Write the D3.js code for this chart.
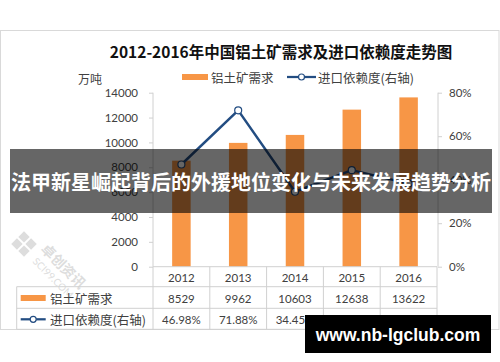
<!DOCTYPE html>
<html><head><meta charset="utf-8">
<script src="https://cdn.jsdelivr.net/npm/d3@7"></script>
<style>
html,body{margin:0;padding:0;background:#fff;}
svg{display:block;}
</style></head>
<body>
<script>
const years = ["2012","2013","2014","2015","2016"];
const demand = [8529, 9962, 10603, 12638, 13622];
const dependency = [46.98, 71.88, 34.45, 44.39, 38.21];
const leftTicks = [0,2000,4000,6000,8000,10000,12000,14000];
const rightTicks = [0,20,40,60,80];
const title = "2012-2016年中国铝土矿需求及进口依赖度走势图";
const seriesNames = ["铝土矿需求","进口依赖度(右轴)"];
const unitLabel = "万吨";
const bannerText = "法甲新星崛起背后的外援地位变化与未来发展趋势分析";
const siteText = "www.nb-lgclub.com";

const W=500,H=362;
const BAR="#F79646", LINE="#234d82", GRID="#d0d0d0", TXT="#404040";
const FONT="Lato, 'Noto Sans CJK SC', sans-serif";
const CJK="'Noto Sans CJK SC', sans-serif";

const svg=d3.select("body").append("svg").attr("width",W).attr("height",H);

// frame
svg.append("rect").attr("x",0.5).attr("y",30.5).attr("width",498.5).attr("height",299)
  .attr("fill","#fff").attr("stroke","#d9d9d9");

// faint logo watermark
const wm=svg.append("g").attr("opacity",0.28).attr("fill","#888");
const lg=wm.append("g").attr("transform","translate(24,244) rotate(45)");
[[-9,-9],[1,-9],[-9,1],[1,1]].forEach(p=>lg.append("rect").attr("x",p[0]).attr("y",p[1]).attr("width",8).attr("height",8));
wm.append("text").attr("transform","translate(40,250) rotate(45)").attr("font-family",CJK)
  .attr("font-size",14).attr("font-weight",700).text("卓创资讯");
wm.append("text").attr("transform","translate(32,262) rotate(45)").attr("font-family",FONT)
  .attr("font-size",10).text("SCI99.COM");

// title
svg.append("text").attr("x",281).attr("y",51).attr("text-anchor","middle")
  .attr("dominant-baseline","central").attr("font-family","'Noto Sans CJK SC', serif")
  .attr("font-weight",700).attr("font-size",15.5).attr("fill","#111").text(title);

// legend
svg.append("rect").attr("x",182).attr("y",74).attr("width",26).attr("height",6).attr("fill",BAR);
svg.append("text").attr("x",211).attr("y",77).attr("dominant-baseline","central")
  .attr("font-family",CJK).attr("font-size",12.5).attr("fill",TXT).text(seriesNames[0]);
svg.append("line").attr("x1",287).attr("x2",316).attr("y1",77).attr("y2",77).attr("stroke",LINE).attr("stroke-width",2.25);
svg.append("circle").attr("cx",301.5).attr("cy",77).attr("r",3).attr("fill","#fff").attr("stroke",LINE).attr("stroke-width",1.2);
svg.append("text").attr("x",318).attr("y",77).attr("dominant-baseline","central")
  .attr("font-family",CJK).attr("font-size",12.5).attr("fill",TXT).text(seriesNames[1]);

svg.append("text").attr("x",78).attr("y",78).attr("dominant-baseline","central")
  .attr("font-family",CJK).attr("font-size",12).attr("fill",TXT).text(unitLabel);

// scales
const x=d3.scaleBand().domain(years).range([153,437]).paddingInner(0).paddingOuter(0);
const yL=d3.scaleLinear().domain([0,14000]).range([266.7,92.7]);
const yR=d3.scaleLinear().domain([0,80]).range([266.7,92.7]);

// axes
const ax=svg.append("g").attr("transform","translate(153,0)")
  .call(d3.axisLeft(yL).tickValues(leftTicks).tickSizeOuter(0).tickSize(4).tickPadding(11).tickFormat(d3.format("d")));
const ax2=svg.append("g").attr("transform","translate(438,0)")
  .call(d3.axisRight(yR).tickValues(rightTicks).tickSizeOuter(0).tickSize(4).tickPadding(7).tickFormat(d=>d+"%"));
[ax,ax2].forEach(a=>{
  a.select(".domain").attr("stroke",GRID);
  a.selectAll(".tick line").attr("stroke",GRID);
  a.selectAll(".tick text").attr("font-family",FONT).attr("font-size",11.5).attr("fill",TXT);
});
ax.select(".domain").attr("d","M0,92.7V266.7");
ax2.select(".domain").attr("d","M0,92.7V266.7");

// bars
const bw=18.5;
svg.append("g").selectAll("rect").data(years).join("rect")
  .attr("x",d=>x(d)+x.bandwidth()/2-bw/2).attr("width",bw)
  .attr("y",(d,i)=>yL(demand[i])).attr("height",(d,i)=>yL(0)-yL(demand[i]))
  .attr("fill",BAR);

// line
const pts=years.map((d,i)=>[x(d)+x.bandwidth()/2,yR(dependency[i])]);
svg.append("path").attr("d",d3.line()(pts)).attr("fill","none").attr("stroke",LINE).attr("stroke-width",2.5).attr("stroke-linejoin","round");
svg.append("g").selectAll("circle").data(pts).join("circle")
  .attr("cx",d=>d[0]).attr("cy",d=>d[1]).attr("r",3.5).attr("fill","#fff").attr("stroke",LINE).attr("stroke-width",1.2);

// data table
const tL=16.7, tR=437, r0=266.7, r1=286.7, r2=308.3, r3=329.3;
const tg=svg.append("g").attr("stroke",GRID).attr("stroke-width",1).attr("fill","none");
tg.append("line").attr("x1",153).attr("x2",tR).attr("y1",r0).attr("y2",r0);
[r1,r2,r3].forEach(y=>tg.append("line").attr("x1",tL).attr("x2",tR).attr("y1",y).attr("y2",y));
tg.append("line").attr("x1",tL).attr("x2",tL).attr("y1",r1).attr("y2",r3);
const bounds=years.map(d=>x(d)).concat([x(years[years.length-1])+x.bandwidth()]);
bounds.forEach(b=>tg.append("line").attr("x1",b).attr("x2",b).attr("y1",r0).attr("y2",r3));

const rowsY=[(r0+r1)/2+0.5,(r1+r2)/2+0.5,(r2+r3)/2+0.5];
const tt=svg.append("g").attr("font-family",FONT).attr("font-size",11.5).attr("fill",TXT).attr("text-anchor","middle");
years.forEach((d,i)=>{
  const cx=x(d)+x.bandwidth()/2;
  tt.append("text").attr("x",cx).attr("y",rowsY[0]).attr("dominant-baseline","central").text(d);
  tt.append("text").attr("x",cx).attr("y",rowsY[1]).attr("dominant-baseline","central").text(demand[i]);
  tt.append("text").attr("x",cx).attr("y",rowsY[2]).attr("dominant-baseline","central").text(dependency[i].toFixed(2)+"%");
});
svg.append("rect").attr("x",20.7).attr("y",rowsY[1]-3).attr("width",25).attr("height",6).attr("fill",BAR);
svg.append("text").attr("x",50).attr("y",rowsY[1]).attr("dominant-baseline","central")
  .attr("font-family",CJK).attr("font-size",12.5).attr("fill",TXT).text(seriesNames[0]);
svg.append("line").attr("x1",20.7).attr("x2",45.7).attr("y1",rowsY[2]).attr("y2",rowsY[2]).attr("stroke",LINE).attr("stroke-width",2.25);
svg.append("circle").attr("cx",33.2).attr("cy",rowsY[2]).attr("r",3).attr("fill","#fff").attr("stroke",LINE).attr("stroke-width",1.2);
svg.append("text").attr("x",50).attr("y",rowsY[2]).attr("dominant-baseline","central")
  .attr("font-family",CJK).attr("font-size",12.5).attr("fill",TXT).text(seriesNames[1]);

// banner overlay
svg.append("rect").attr("x",10).attr("y",149).attr("width",482).attr("height",64).attr("fill","rgba(0,0,0,0.6)");
svg.append("text").attr("x",251).attr("y",181).attr("text-anchor","middle").attr("dominant-baseline","central")
  .attr("font-family",CJK).attr("font-weight",700).attr("font-size",20).attr("fill","#fff").text(bannerText);

// site watermark
svg.append("rect").attr("x",305).attr("y",315).attr("width",186).attr("height",38).attr("fill","#000");
svg.append("text").attr("x",398).attr("y",335).attr("text-anchor","middle").attr("dominant-baseline","central")
  .attr("font-family","'Liberation Sans', Arial, sans-serif").attr("font-weight",700).attr("font-size",17.5).attr("fill","#fff").text(siteText);
</script>
</body></html>
